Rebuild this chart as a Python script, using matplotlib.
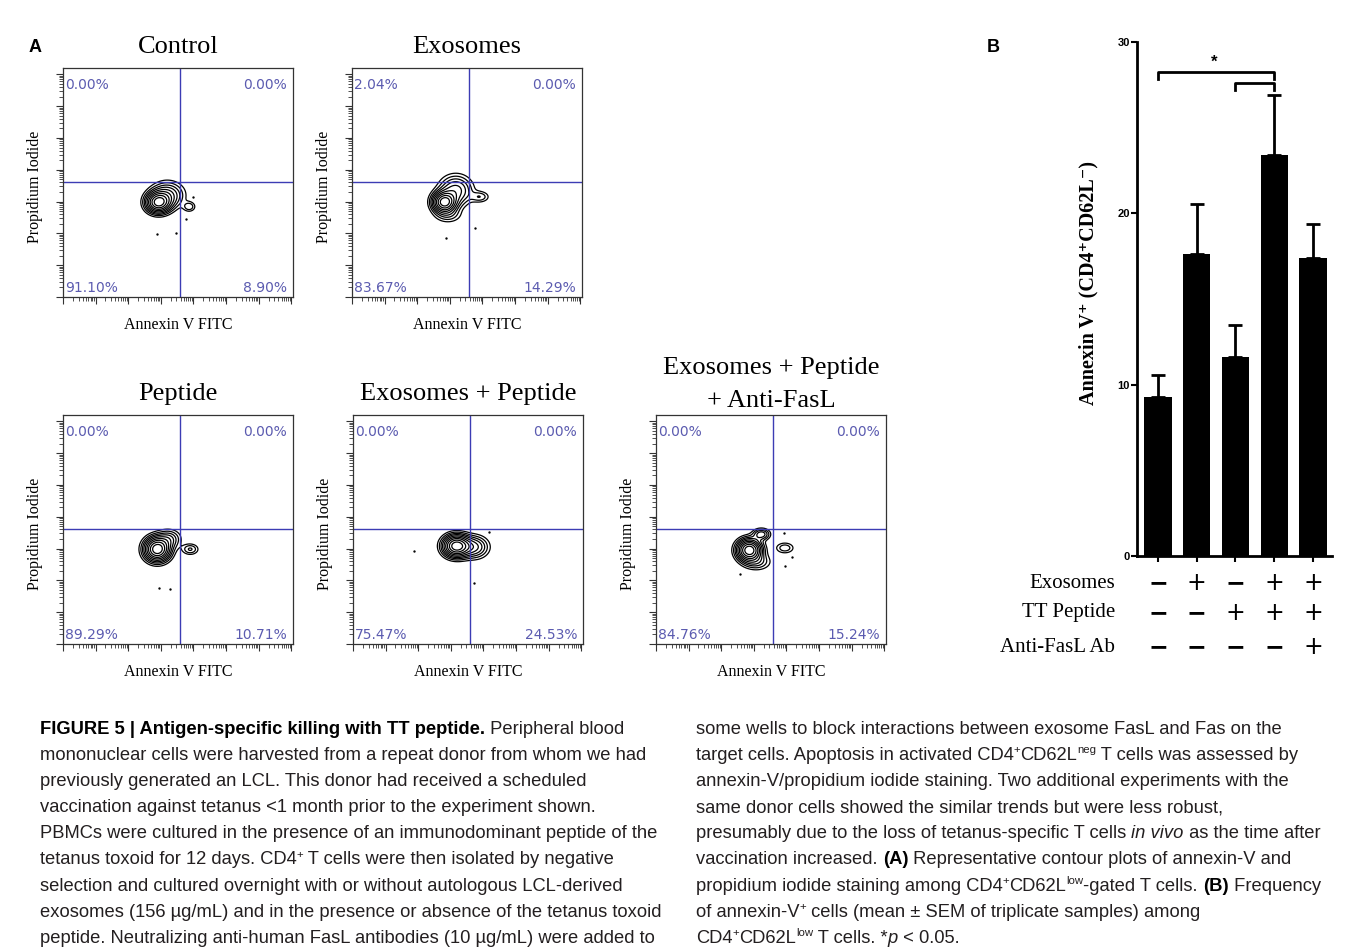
import numpy as np
import matplotlib
matplotlib.use("Agg")
import matplotlib.pyplot as plt
from matplotlib.ticker import FixedLocator, NullFormatter
from matplotlib.transforms import blended_transform_factory

W, H = 1354, 949
SERIF = ["Liberation Serif", "DejaVu Serif"]
SANS = ["Liberation Sans", "DejaVu Sans"]
CAP_FONT = ["Liberation Sans Narrow", "DejaVu Sans Condensed", "Liberation Sans"]

# ---- panel A: flow cytometry contour plots ----
titles = [["Control"], ["Exosomes"], ["Peptide"], ["Exosomes + Peptide"],
          ["Exosomes + Peptide", "+ Anti-FasL"]]
pct_ul = ["0.00%", "2.04%", "0.00%", "0.00%", "0.00%"]
pct_ur = ["0.00%", "0.00%", "0.00%", "0.00%", "0.00%"]
pct_ll = ["91.10%", "83.67%", "89.29%", "75.47%", "84.76%"]
pct_lr = ["8.90%", "14.29%", "10.71%", "24.53%", "15.24%"]

# density blobs per panel: (centre x, centre y, spread x, spread y, amplitude), in log decades
control_blobs = [(2.92, 2.97, 0.22, 0.19, 1.0), (3.20, 3.20, 0.30, 0.25, 0.35),
                 (3.87, 2.84, 0.12, 0.10, 0.15)]
exosome_blobs = [(2.83, 2.98, 0.21, 0.19, 1.0), (3.18, 3.35, 0.30, 0.28, 0.35),
                 (2.95, 2.58, 0.26, 0.16, 0.12), (3.92, 3.15, 0.18, 0.11, 0.14)]
peptide_blobs = [(2.89, 2.98, 0.23, 0.22, 1.0), (3.25, 3.30, 0.22, 0.18, 0.20),
                 (3.90, 2.98, 0.16, 0.11, 0.15)]
exo_pep_blobs = [(3.17, 3.08, 0.24, 0.20, 1.0), (3.72, 3.05, 0.26, 0.21, 0.30)]
fasl_blobs = [(2.86, 2.95, 0.22, 0.20, 1.0), (3.23, 3.45, 0.16, 0.11, 0.25),
              (3.95, 3.02, 0.18, 0.11, 0.13), (3.10, 2.58, 0.26, 0.16, 0.15)]
blobs = [control_blobs, exosome_blobs, peptide_blobs, exo_pep_blobs, fasl_blobs]

dots_x = [[2.89, 3.45, 3.78, 3.97], [2.89, 3.78], [2.93, 3.29], [1.88, 4.18, 3.72],
          [2.56, 3.94, 4.18, 3.91]]
dots_y = [[1.97, 2.01, 2.45, 3.14], [1.85, 2.16], [1.75, 1.72], [2.92, 3.52, 1.91],
          [2.20, 2.45, 2.73, 3.48]]

# ---- panel B: bar chart ----
means = [9.3, 17.6, 11.6, 23.4, 17.4]
sem = [1.25, 2.95, 1.85, 3.5, 1.95]
row_names = ["Exosomes", "TT Peptide", "Anti-FasL Ab"]
exosomes = ["−", "+", "−", "+", "+"]
tt_peptide = ["−", "−", "+", "+", "+"]
anti_fasl = ["−", "−", "−", "−", "+"]

fig = plt.figure(figsize=(W / 100, H / 100), dpi=100)

ov = fig.add_axes([0, 0, 1, 1])
ov.set_xlim(0, W)
ov.set_ylim(H, 0)
ov.axis("off")

XD, YD = 7.05, 7.2
QX, QY = 3.6, 3.61
BOX_W, BOX_H = 230, 229
lefts = [63, 352, 63, 353, 656]
tops = [68, 68, 415, 415, 415]
LEVELS = [0.05, 0.09, 0.14, 0.2, 0.28, 0.38, 0.5, 0.65, 0.82]
QCOL = "#3c3cb4"
PCOL = "#5b5bb0"

gx = np.linspace(0, XD, 400)
gy = np.linspace(0, YD, 400)
GX, GY = np.meshgrid(gx, gy)
maj = np.arange(0, 8)
mnr = [d + np.log10(k) for d in range(0, 8) for k in range(2, 10)]

for i in range(5):
    L, T = lefts[i], tops[i]
    ax = fig.add_axes([L / W, 1 - (T + BOX_H) / H, BOX_W / W, BOX_H / H])
    ax.set_xlim(0, XD)
    ax.set_ylim(0, YD)
    Z = np.zeros_like(GX)
    for cx, cy, sx, sy, a in blobs[i]:
        Z += a * np.exp(-0.5 * (((GX - cx) / sx) ** 2 + ((GY - cy) / sy) ** 2))
    ax.contour(GX, GY, Z / Z.max(), levels=LEVELS, colors="k", linewidths=0.9)
    ax.plot(dots_x[i], dots_y[i], "k.", ms=1.4)
    ax.axvline(QX, color=QCOL, lw=1)
    ax.axhline(QY, color=QCOL, lw=1)
    for s in ax.spines.values():
        s.set_color("#333333")
        s.set_linewidth(0.9)
    ax.xaxis.set_major_locator(FixedLocator(maj))
    ax.xaxis.set_minor_locator(FixedLocator(mnr))
    ax.yaxis.set_major_locator(FixedLocator(maj))
    ax.yaxis.set_minor_locator(FixedLocator(mnr))
    ax.xaxis.set_major_formatter(NullFormatter())
    ax.yaxis.set_major_formatter(NullFormatter())
    ax.tick_params(which="major", direction="out", length=5, width=0.8, color="#333333")
    ax.tick_params(which="minor", direction="out", length=3, width=0.6, color="#333333")
    pk = dict(transform=ax.transAxes, color=PCOL, fontsize=10, family="DejaVu Sans")
    ax.text(0.01, 0.955, pct_ul[i], ha="left", va="top", **pk)
    ax.text(0.975, 0.955, pct_ur[i], ha="right", va="top", **pk)
    ax.text(0.01, 0.008, pct_ll[i], ha="left", va="bottom", **pk)
    ax.text(0.975, 0.008, pct_lr[i], ha="right", va="bottom", **pk)

    cxp = L + BOX_W / 2
    if len(titles[i]) == 1:
        ov.text(cxp, T - 21, titles[i][0], ha="center", va="center", family=SERIF, fontsize=19)
    else:
        ov.text(cxp, T - 47, titles[i][0], ha="center", va="center", family=SERIF, fontsize=19)
        ov.text(cxp, T - 14, titles[i][1], ha="center", va="center", family=SERIF, fontsize=19)
    ov.text(cxp, T + BOX_H + 28, "Annexin V FITC", ha="center", va="center",
            family=SERIF, fontsize=11.5)
    ov.text(L - 28, T + BOX_H / 2 + 4, "Propidium Iodide", ha="center", va="center",
            rotation=90, family=SERIF, fontsize=11.5)

ov.text(35, 47, "A", ha="center", va="center", family=SANS, fontsize=13, fontweight="bold")
ov.text(993, 47, "B", ha="center", va="center", family=SANS, fontsize=13, fontweight="bold")

# ---- bar chart ----
bx0, bx1, by0, by1 = 1137, 1332, 556, 41.7
axb = fig.add_axes([bx0 / W, 1 - by0 / H, (bx1 - bx0) / W, (by0 - by1) / H])
xs = np.arange(len(means))
axb.bar(xs, means, width=0.7, color="k")
axb.errorbar(xs, means, yerr=[np.zeros(len(sem)), sem], fmt="none", ecolor="k",
             elinewidth=2, capsize=5, capthick=2)
axb.set_xlim(-0.54, 4.49)
axb.set_ylim(0, 30)
axb.set_yticks([0, 10, 20, 30])
axb.set_xticks(xs)
axb.set_xticklabels([])
for lab in axb.get_yticklabels():
    lab.set_fontweight("bold")
    lab.set_family(SANS)
    lab.set_fontsize(8)
axb.tick_params(axis="both", direction="out", length=4, width=1.5, pad=1)
axb.spines["top"].set_visible(False)
axb.spines["right"].set_visible(False)
axb.spines["left"].set_linewidth(2)
axb.spines["bottom"].set_linewidth(2)
axb.patch.set_alpha(0)

axb.plot([0, 0, 3, 3], [27.85, 28.25, 28.25, 27.85], color="k", lw=2, clip_on=False)
axb.plot([2, 2, 3, 3], [27.2, 27.6, 27.6, 27.2], color="k", lw=2, clip_on=False)
axb.text(1.45, 28.8, "*", ha="center", va="center", family=SANS, fontsize=12, fontweight="bold")

ov.text(1088, 283, "Annexin V⁺ (CD4⁺CD62L⁻)", rotation=90, ha="center", va="center",
        family=SERIF, fontsize=14.5, fontweight="bold")

tr = blended_transform_factory(axb.transData, ov.transData)
row_y = [583, 613, 647]
for r, (name, signs) in enumerate(zip(row_names, [exosomes, tt_peptide, anti_fasl])):
    ov.text(1115, row_y[r], name, ha="right", va="center", family=SERIF, fontsize=15)
    for j, s in enumerate(signs):
        ov.text(xs[j], row_y[r], s, transform=tr, ha="center", va="center",
                family="DejaVu Sans", fontsize=17,
                fontweight="bold" if s == "−" else "normal")

# ---- caption ----
left_lines = [
    [("FIGURE 5 | Antigen-specific killing with TT peptide.", "b"), (" Peripheral blood", "n")],
    [("mononuclear cells were harvested from a repeat donor from whom we had", "n")],
    [("previously generated an LCL. This donor had received a scheduled", "n")],
    [("vaccination against tetanus <1 month prior to the experiment shown.", "n")],
    [("PBMCs were cultured in the presence of an immunodominant peptide of the", "n")],
    [("tetanus toxoid for 12 days. CD4", "n"), ("+", "sup"), (" T cells were then isolated by negative", "n")],
    [("selection and cultured overnight with or without autologous LCL-derived", "n")],
    [("exosomes (156 µg/mL) and in the presence or absence of the tetanus toxoid", "n")],
    [("peptide. Neutralizing anti-human FasL antibodies (10 µg/mL) were added to", "n")],
]
right_lines = [
    [("some wells to block interactions between exosome FasL and Fas on the", "n")],
    [("target cells. Apoptosis in activated CD4", "n"), ("+", "sup"), ("CD62L", "n"), ("neg", "sup"),
     (" T cells was assessed by", "n")],
    [("annexin-V/propidium iodide staining. Two additional experiments with the", "n")],
    [("same donor cells showed the similar trends but were less robust,", "n")],
    [("presumably due to the loss of tetanus-specific T cells ", "n"), ("in vivo", "i"),
     (" as the time after", "n")],
    [("vaccination increased. ", "n"), ("(A)", "b"), (" Representative contour plots of annexin-V and", "n")],
    [("propidium iodide staining among CD4", "n"), ("+", "sup"), ("CD62L", "n"), ("low", "sup"),
     ("-gated T cells. ", "n"), ("(B)", "b"), (" Frequency", "n")],
    [("of annexin-V", "n"), ("+", "sup"), (" cells (mean ± SEM of triplicate samples) among", "n")],
    [("CD4", "n"), ("+", "sup"), ("CD62L", "n"), ("low", "sup"), (" T cells. *", "n"), ("p", "i"),
     (" < 0.05.", "n")],
]

renderer = fig.canvas.get_renderer()


def style_kw(st, size):
    kw = dict(family=CAP_FONT, fontsize=size, color="#231f20", va="baseline", ha="left")
    if st == "b":
        kw["fontweight"] = "bold"
        kw["color"] = "black"
    elif st == "i":
        kw["fontstyle"] = "italic"
    elif st == "sup":
        kw["fontsize"] = size * 0.62
    return kw


def text_width(s, kw):
    t = ov.text(0, 0, "|" + s + "|", **kw)
    w = t.get_window_extent(renderer).width
    t.remove()
    t = ov.text(0, 0, "||", **kw)
    w0 = t.get_window_extent(renderer).width
    t.remove()
    return w - w0


def draw_runs(x, y, runs, size):
    for txt, st in runs:
        kw = style_kw(st, size)
        yy = y - size * 100 / 72 * 0.38 if st == "sup" else y
        ov.text(x, yy, txt, **kw)
        x += text_width(txt, kw)


ref = text_width(left_lines[1][0][0], style_kw("n", 10))
cap_size = 10 * 608 / ref

for k, runs in enumerate(left_lines):
    draw_runs(40, 734 + 26.1 * k, runs, cap_size)
for k, runs in enumerate(right_lines):
    draw_runs(696, 734 + 26.1 * k, runs, cap_size)

fig.savefig("out.png", dpi=100)
